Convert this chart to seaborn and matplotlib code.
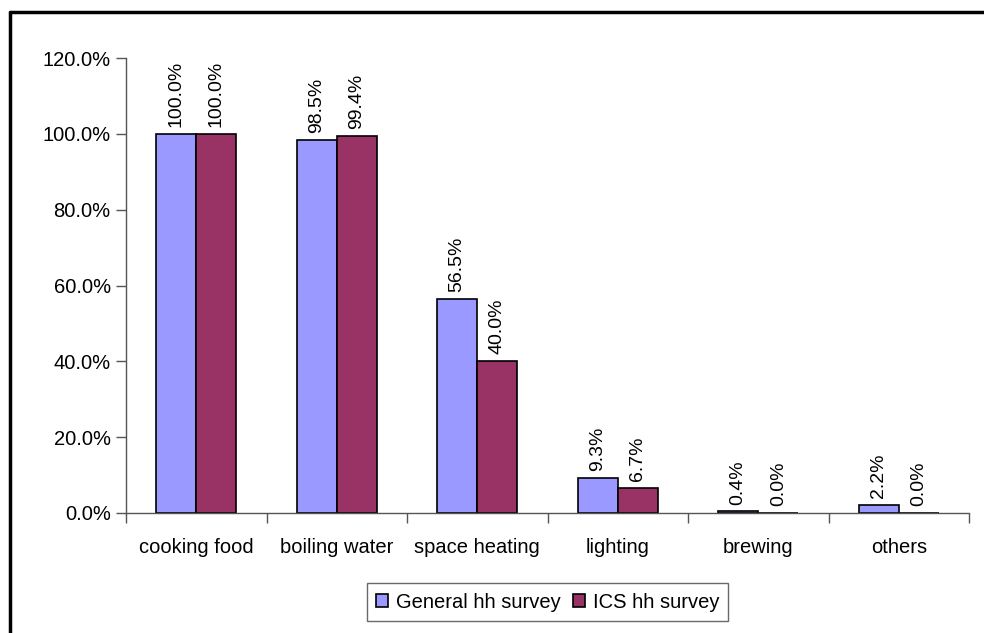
import matplotlib
matplotlib.use("Agg")
import matplotlib.pyplot as plt
from matplotlib.lines import Line2D
from matplotlib.patches import Patch
from matplotlib.ticker import FuncFormatter, FixedLocator
import seaborn as sns
import pandas as pd

# Share of households using firewood for each purpose
categories = ["cooking food", "boiling water", "space heating", "lighting", "brewing", "others"]
general_hh = [100.0, 98.5, 56.5, 9.3, 0.4, 2.2]
ics_hh = [100.0, 99.4, 40.0, 6.7, 0.0, 0.0]
series_names = ["General hh survey", "ICS hh survey"]
colors = ["#9999FF", "#993366"]

df = pd.DataFrame({
    "category": categories * 2,
    "survey": [series_names[0]] * len(categories) + [series_names[1]] * len(categories),
    "share": general_hh + ics_hh,
})

sns.set_style("white")
plt.rcParams["font.family"] = ["Liberation Sans", "DejaVu Sans"]
plt.rcParams["text.color"] = "black"
plt.rcParams["xtick.labelcolor"] = "black"
plt.rcParams["ytick.labelcolor"] = "black"
FS = 14.5

fig = plt.figure(figsize=(9.84, 6.33), dpi=100)
ax = fig.add_axes([126 / 984, 1 - 513 / 633, (969 - 126) / 984, (513 - 58) / 633])

sns.barplot(data=df, x="category", y="share", hue="survey", order=categories,
            hue_order=series_names, palette=colors, width=0.57,
            edgecolor="black", linewidth=1.2, legend=False, ax=ax, saturation=1)

for container in ax.containers:
    ax.bar_label(container, labels=[f"{v.get_height():.1f}%" for v in container],
                 rotation=90, padding=5, fontsize=14, color="black")

ax.set_xlim(-0.5, len(categories) - 0.5)
ax.set_ylim(0, 120)
ax.set_yticks(range(0, 121, 20))
ax.yaxis.set_major_formatter(FuncFormatter(lambda v, _: f"{v:.1f}%"))
ax.set_xlabel("")
ax.set_ylabel("")

# category boundaries carry the tick marks, labels sit centered under each group
ax.xaxis.set_minor_locator(FixedLocator([i - 0.5 for i in range(len(categories) + 1)]))
ax.tick_params(axis="x", which="major", length=0, pad=18, labelsize=FS, labelcolor="black")
ax.tick_params(axis="x", which="minor", length=7, width=1, color="#555555", bottom=True)
ax.tick_params(axis="y", which="major", length=7, width=1, color="#555555", left=True,
               labelsize=FS, pad=4, labelcolor="black")

for side in ["top", "right"]:
    ax.spines[side].set_visible(False)
for side in ["left", "bottom"]:
    ax.spines[side].set_color("#555555")
    ax.spines[side].set_linewidth(1)

handles = [Patch(facecolor=c, edgecolor="black", linewidth=1.2) for c in colors]
leg = fig.legend(handles, series_names, loc="center", bbox_to_anchor=(547.5 / 984, 1 - 602 / 633),
                 ncol=2, frameon=True, fancybox=False, fontsize=FS, handlelength=0.6,
                 handleheight=0.6, handletextpad=0.4, columnspacing=0.6, borderpad=0.45,
                 borderaxespad=0, labelcolor="black")
leg.get_frame().set_edgecolor("#444444")
leg.get_frame().set_linewidth(1)

# chart frame: top and left edges
fig.add_artist(Line2D([10 / 984, 1.0], [1 - 12 / 633] * 2, color="black", linewidth=2.5,
                      transform=fig.transFigure))
fig.add_artist(Line2D([10 / 984] * 2, [0.0, 1 - 12 / 633], color="black", linewidth=2.5,
                      transform=fig.transFigure))

fig.savefig("out.png", dpi=100)
